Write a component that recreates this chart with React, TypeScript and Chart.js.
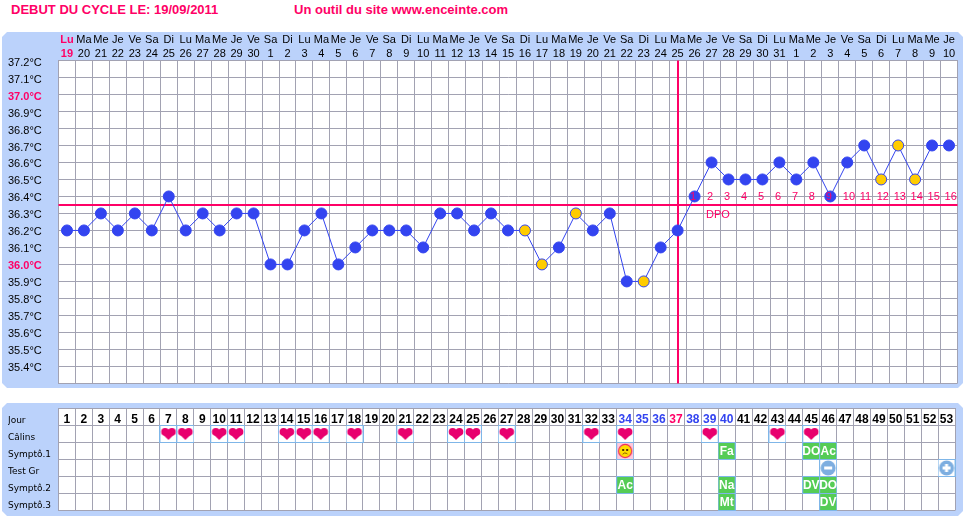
import React, { useEffect, useRef } from "react";
import { Chart, registerables } from "chart.js";

Chart.register(...registerables);

const weekdays = ["Lu","Ma","Me","Je","Ve","Sa","Di","Lu","Ma","Me","Je","Ve","Sa","Di","Lu","Ma","Me","Je","Ve","Sa","Di","Lu","Ma","Me","Je","Ve","Sa","Di","Lu","Ma","Me","Je","Ve","Sa","Di","Lu","Ma","Me","Je","Ve","Sa","Di","Lu","Ma","Me","Je","Ve","Sa","Di","Lu","Ma","Me","Je"];
const dates = ["19","20","21","22","23","24","25","26","27","28","29","30","1","2","3","4","5","6","7","8","9","10","11","12","13","14","15","16","17","18","19","20","21","22","23","24","25","26","27","28","29","30","31","1","2","3","4","5","6","7","8","9","10"];
const temperatures = [36.2,36.2,36.3,36.2,36.3,36.2,36.4,36.2,36.3,36.2,36.3,36.3,36.0,36.0,36.2,36.3,36.0,36.1,36.2,36.2,36.2,36.1,36.3,36.3,36.2,36.3,36.2,36.2,36.0,36.1,36.3,36.2,36.3,35.9,35.9,36.1,36.2,36.4,36.6,36.5,36.5,36.5,36.6,36.5,36.6,36.4,36.6,36.7,36.5,36.7,36.5,36.7,36.7];
const uncertainDays = [28,29,31,35,49,50,51];
const coverLine = 36.35;
const ovulationDay = 37;
const dpoLabels = ["1","2","3","4","5","6","7","8","9","10","11","12","13","14","15","16"];
const dayNumbers = ["1","2","3","4","5","6","7","8","9","10","11","12","13","14","15","16","17","18","19","20","21","22","23","24","25","26","27","28","29","30","31","32","33","34","35","36","37","38","39","40","41","42","43","44","45","46","47","48","49","50","51","52","53"];
const blueDays = ["34","35","36","38","39","40"];
const redDays = ["37"];
const rowLabels = ["Jour","Câlins","Symptô.1","Test Gr","Symptô.2","Symptô.3"];
const heartDays = ["7","8","10","11","14","15","16","18","21","24","25","27","32","34","39","43","45"];
const smileyDays = ["34"];
const minusDays = ["46"];
const plusDays = ["53"];
const symptom1 = [["40","Fa"],["45","DO"],["46","Ac"]];
const symptom2 = [["34","Ac"],["40","Na"],["45","DV"],["46","DO"]];
const symptom3 = [["40","Mt"],["46","DV"]];

const PINK = "#FF0066";
const BLUE = "#3344F0";
const YELLOW = "#FFCC00";
const GRID = "#A2A2B2";
const PANEL = "#BBD2FB";
const CELL = "#7FB6E8";
const GREEN = "#55CC55";
const SANS = "'Liberation Sans', Arial, sans-serif";

function panelPlugin(top: number, bottom: number) {
  return {
    id: "panel",
    beforeDraw(chart: any) {
      const { ctx } = chart;
      const l = 2, r = 963, c = 5;
      ctx.save();
      ctx.fillStyle = PANEL;
      ctx.beginPath();
      ctx.moveTo(l + c, top);
      ctx.lineTo(r - c, top);
      ctx.lineTo(r, top + c);
      ctx.lineTo(r, bottom - c);
      ctx.lineTo(r - c, bottom);
      ctx.lineTo(l + c, bottom);
      ctx.lineTo(l, bottom - c);
      ctx.lineTo(l, top + c);
      ctx.closePath();
      ctx.fill();
      const a = chart.chartArea;
      ctx.fillStyle = "#FFFFFF";
      ctx.fillRect(a.left, a.top, a.right - a.left, a.bottom - a.top);
      ctx.restore();
    },
  };
}

const cyclePlugin = {
  id: "cycleMarks",
  beforeDatasetsDraw(chart: any) {
    const { ctx, chartArea: a, scales } = chart;
    const y = Math.round(scales.y.getPixelForValue(coverLine));
    const x = Math.round(scales.x.getPixelForValue(ovulationDay - 1));
    ctx.save();
    ctx.fillStyle = PINK;
    ctx.fillRect(a.left, y - 1, a.right - a.left, 2);
    ctx.fillRect(x - 1, a.top, 2, a.bottom - a.top);
    ctx.restore();
  },
  afterDatasetsDraw(chart: any) {
    const { ctx, scales } = chart;
    ctx.save();
    ctx.fillStyle = PINK;
    ctx.font = `11px ${SANS}`;
    ctx.textAlign = "left";
    ctx.textBaseline = "middle";
    const halfColumn = (scales.x.getPixelForValue(1) - scales.x.getPixelForValue(0)) / 2;
    dpoLabels.forEach((label, i) => {
      const x = scales.x.getPixelForValue(ovulationDay + i) - halfColumn + 4;
      ctx.fillText(label, x, scales.y.getPixelForValue(36.4) + 1);
    });
    ctx.fillText("DPO", scales.x.getPixelForValue(ovulationDay + 1) - halfColumn + 3, scales.y.getPixelForValue(36.29));
    ctx.restore();
  },
};

const tilePlugin = {
  id: "tileLabels",
  afterDatasetsDraw(chart: any) {
    const { ctx, scales } = chart;
    ctx.save();
    ctx.fillStyle = "#FFFFFF";
    ctx.font = `bold 12px ${SANS}`;
    ctx.textAlign = "center";
    ctx.textBaseline = "middle";
    const groups: [string, string[][]][] = [["Symptô.1", symptom1], ["Symptô.2", symptom2], ["Symptô.3", symptom3]];
    groups.forEach(([row, items]) => {
      items.forEach(([day, label]) => {
        ctx.fillText(label, scales.x.getPixelForValue(dayNumbers.indexOf(day)), scales.y.getPixelForValue(rowLabels.indexOf(row)) + 0.5);
      });
    });
    ctx.restore();
  },
};

function cellCanvas(paint: (c: CanvasRenderingContext2D) => void, fill = "#FFFFFF") {
  const cv = document.createElement("canvas");
  cv.width = 18;
  cv.height = 18;
  const c = cv.getContext("2d")!;
  c.fillStyle = CELL;
  c.fillRect(0, 0, 18, 18);
  c.fillStyle = fill;
  c.fillRect(1, 1, 16, 16);
  paint(c);
  return cv;
}

function makeHeart() {
  return cellCanvas((c) => {
    c.fillStyle = "#E8006E";
    c.beginPath();
    c.arc(5.6, 6.8, 3.9, 0, Math.PI * 2);
    c.arc(12.4, 6.8, 3.9, 0, Math.PI * 2);
    c.fill();
    c.beginPath();
    c.moveTo(1.9, 8);
    c.lineTo(9, 15);
    c.lineTo(16.1, 8);
    c.lineTo(14, 5);
    c.lineTo(4, 5);
    c.closePath();
    c.fill();
  });
}

function makeSmiley() {
  return cellCanvas((c) => {
    c.fillStyle = "#FFDD00";
    c.strokeStyle = "#F03060";
    c.lineWidth = 1.2;
    c.beginPath();
    c.arc(9, 9, 6.6, 0, Math.PI * 2);
    c.fill();
    c.stroke();
    c.fillStyle = "#553300";
    c.fillRect(6, 7, 2, 2);
    c.fillRect(10, 7, 2, 2);
    c.strokeStyle = "#885500";
    c.lineWidth = 1;
    c.beginPath();
    c.arc(9, 14, 3, Math.PI * 1.2, Math.PI * 1.8);
    c.stroke();
  }, "#FFC8DC");
}

function makeTest(plus: boolean) {
  return cellCanvas((c) => {
    c.fillStyle = "#7DAEE0";
    c.beginPath();
    c.arc(9, 9, 7.5, 0, Math.PI * 2);
    c.fill();
    c.fillStyle = "#FFFFFF";
    c.fillRect(5, 7.5, 8, 3);
    if (plus) c.fillRect(7.5, 5, 3, 8);
  });
}

function makeTile() {
  return cellCanvas(() => {}, GREEN);
}

const isKeyTemp = (ctx: any) => {
  const v = ctx.tick?.value;
  return v !== undefined && (Math.abs(v - 37) < 0.01 || Math.abs(v - 36) < 0.01);
};

const pageStyle: React.CSSProperties = { position: "absolute", left: 0, top: 0, width: 964, height: 520, background: "#FFFFFF", overflow: "hidden" };
const titleStyle: React.CSSProperties = { position: "absolute", top: 2, font: `bold 13px ${SANS}`, color: PINK, whiteSpace: "nowrap" };

export default function App() {
  const topRef = useRef<HTMLCanvasElement>(null);
  const bottomRef = useRef<HTMLCanvasElement>(null);

  useEffect(() => {
    const top = new Chart(topRef.current!, {
      type: "line",
      data: {
        labels: dates.map((d, i) => [weekdays[i], d]),
        datasets: [{
          data: temperatures,
          borderColor: BLUE,
          borderWidth: 1,
          tension: 0,
          pointRadius: 5.5,
          pointBorderWidth: 1,
          pointBorderColor: BLUE,
          pointBackgroundColor: (ctx: any) => (uncertainDays.includes(ctx.dataIndex + 1) ? YELLOW : BLUE),
        }],
      },
      options: {
        responsive: false,
        animation: false,
        layout: { padding: { left: 8, right: 4.5, top: 0, bottom: 6.5 } },
        plugins: { legend: { display: false }, tooltip: { enabled: false } },
        scales: {
          x: {
            type: "category",
            position: "top",
            offset: true,
            afterFit: (s: any) => { s.height = 60.5; },
            grid: { color: GRID, offset: true, drawTicks: false },
            border: { color: GRID },
            ticks: {
              autoSkip: false,
              maxRotation: 0,
              minRotation: 0,
              padding: 0,
              color: (ctx: any) => (ctx.index === 0 ? PINK : "#000000"),
              font: (ctx: any) => ({ family: SANS, size: 11, lineHeight: 13.5 / 11, weight: ctx.index === 0 ? "bold" : "normal" }),
            },
          },
          y: {
            type: "linear",
            min: 35.3,
            max: 37.2,
            afterFit: (s: any) => { s.width = 50.5; },
            grid: { color: GRID, drawTicks: false },
            border: { color: GRID },
            ticks: {
              stepSize: 0.1,
              autoSkip: false,
              crossAlign: "far",
              padding: 0,
              labelOffset: 2,
              callback: (v: any) => (Math.abs(v - 35.3) < 0.01 ? "" : `${Number(v).toFixed(1)}°C`),
              color: (ctx: any) => (isKeyTemp(ctx) ? PINK : "#000000"),
              font: (ctx: any) => ({ family: SANS, size: 11, weight: isKeyTemp(ctx) ? "bold" : "normal" }),
            },
          },
        },
      } as any,
      plugins: [panelPlugin(32, 388), cyclePlugin],
    } as any);

    const asPoints = (days: string[], row: string) => days.map((d) => ({ x: d, y: row }));
    const markDataset = (points: any[], style: HTMLCanvasElement) => ({
      data: points,
      showLine: false,
      pointStyle: style,
      pointRadius: 8,
      clip: false,
    });
    const tilePoints = [
      ...asPoints(symptom1.map((s) => s[0]), "Symptô.1"),
      ...asPoints(symptom2.map((s) => s[0]), "Symptô.2"),
      ...asPoints(symptom3.map((s) => s[0]), "Symptô.3"),
    ];

    const bottom = new Chart(bottomRef.current!, {
      type: "line",
      data: {
        datasets: [
          markDataset(asPoints(heartDays, "Câlins"), makeHeart()),
          markDataset(asPoints(smileyDays, "Symptô.1"), makeSmiley()),
          markDataset(asPoints(minusDays, "Test Gr"), makeTest(false)),
          markDataset(asPoints(plusDays, "Test Gr"), makeTest(true)),
          markDataset(tilePoints, makeTile()),
        ],
      },
      options: {
        responsive: false,
        animation: false,
        layout: { padding: { left: 8, right: 4.5, top: 0, bottom: 9.5 } },
        plugins: { legend: { display: false }, tooltip: { enabled: false } },
        scales: {
          x: {
            type: "category",
            position: "top",
            labels: dayNumbers,
            offset: true,
            afterFit: (s: any) => { s.height = 18.5; },
            grid: { color: GRID, offset: true, drawTicks: false },
            border: { color: GRID },
            ticks: {
              autoSkip: false,
              maxRotation: 0,
              minRotation: 0,
              mirror: true,
              padding: 3.5,
              color: (ctx: any) => {
                const day = dayNumbers[ctx.index];
                return redDays.includes(day) ? PINK : blueDays.includes(day) ? BLUE : "#000000";
              },
              font: { family: SANS, size: 12, weight: "bold" },
            },
          },
          y: {
            type: "category",
            labels: rowLabels,
            offset: true,
            afterFit: (s: any) => { s.width = 50.5; },
            grid: { color: GRID, offset: true, drawTicks: false },
            border: { color: GRID },
            ticks: {
              autoSkip: false,
              crossAlign: "far",
              padding: 0,
              labelOffset: 4,
              color: "#000000",
              font: { family: "'DejaVu Sans', sans-serif", size: 9 },
            },
          },
        },
      } as any,
      plugins: [panelPlugin(13, 126), tilePlugin],
    } as any);

    return () => {
      top.destroy();
      bottom.destroy();
    };
  }, []);

  return (
    <div style={pageStyle}>
      <div style={{ ...titleStyle, left: 11 }}>DEBUT DU CYCLE LE: 19/09/2011</div>
      <div style={{ ...titleStyle, left: 294 }}>Un outil du site www.enceinte.com</div>
      <canvas ref={topRef} width={964} height={390} style={{ position: "absolute", left: 0, top: 0, display: "block" }} />
      <canvas ref={bottomRef} width={964} height={130} style={{ position: "absolute", left: 0, top: 390, display: "block" }} />
    </div>
  );
}
